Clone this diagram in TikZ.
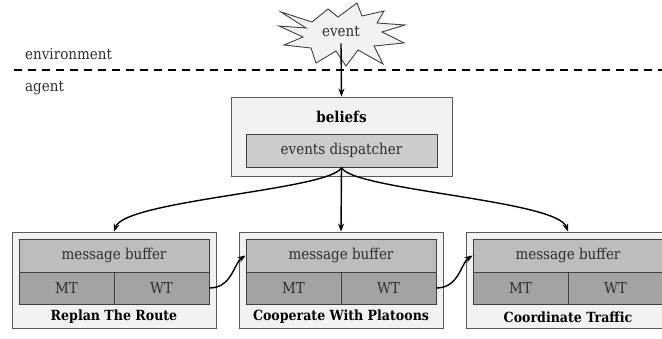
\documentclass[tikz,border=0pt]{standalone}
\usepackage{fontspec}
\setmainfont{DejaVu Serif Condensed}
\usetikzlibrary{arrows.meta}
\definecolor{outerfill}{HTML}{F2F2F2}
\definecolor{buffill}{HTML}{BDBDBD}
\definecolor{mtfill}{HTML}{A3A3A3}
\definecolor{dispfill}{HTML}{CCCCCC}
\definecolor{txt}{HTML}{2E2E2E}
\begin{document}
\begin{tikzpicture}[x=1pt,y=-1pt,
  outerbox/.style={draw=black!65, fill=outerfill, line width=0.9pt, inner sep=0pt},
  bufbox/.style={draw=black!75, fill=buffill, line width=0.8pt, inner sep=0pt, minimum width=190pt, minimum height=33pt, text=txt, font=\fontsize{15}{17}\selectfont},
  tbox/.style={draw=black!75, fill=mtfill, line width=0.8pt, inner sep=0pt, minimum width=95pt, minimum height=32pt, text=txt, font=\fontsize{15}{17}\selectfont},
  lbl/.style={font=\fontsize{14}{16}\selectfont\bfseries, inner sep=0pt},
  plain/.style={font=\fontsize{15}{17}\selectfont, inner sep=0pt, text=txt},
  arr/.style={-{Stealth[length=8pt,width=6pt]}, line width=1.4pt}
]
\useasboundingbox (0,0) rectangle (662,339);
\clip (0,0) rectangle (662,339);

% environment / agent
\node[plain, anchor=west] (env) at (25,54) {environment};
\node[plain, anchor=west] (ag) at (25,88) {agent};
\draw[line width=2pt, dash pattern=on 8pt off 6pt] (14,70) -- (662,70);

% event starburst
\draw[draw=black!75, fill=outerfill, line width=0.9pt, line join=miter]
  (281,12) -- (312,22) -- (328,9) -- (338,17) -- (357,3) -- (362,16) -- (384,11) -- (377,23)
  -- (405,25) -- (382,32) -- (404,43) -- (374,46) -- (383,64) -- (358,50) -- (346,66) -- (336,51)
  -- (316,63) -- (311,48) -- (284,45) -- (303,37) -- (279,26) -- (306,28) -- cycle;
\node[plain, inner sep=3pt, inner ysep=6pt] (ev) at (341,32) {event};

% beliefs
\node[outerbox, minimum width=221pt, minimum height=79pt] (bel) at (341.5,136.5) {};
\node[lbl, font=\fontsize{15}{17}\selectfont\bfseries] (beltxt) at (341.5,117) {beliefs};
\node[draw=black!75, fill=dispfill, line width=0.8pt, inner sep=0pt, minimum width=191pt, minimum height=33pt, plain] (disp) at (341.5,150.5) {events dispatcher};

\draw[arr] (ev.south) -- (bel.north);

% bottom boxes
\foreach \i/\cx/\name in {1/114/Replan The Route, 2/341/Cooperate With Platoons, 3/568/Coordinate Traffic}{
  \node[outerbox, minimum width=204pt, minimum height=96pt] (o\i) at (\cx,280) {};
  \node[bufbox] (b\i) at (\cx,255.5) {message buffer};
  \node[tbox] (mt\i) at (\cx-47.5,288) {MT};
  \node[tbox] (wt\i) at (\cx+47.5,288) {WT};
  \node[lbl] (l\i) at (\cx,317) {\name};
}

% dispatcher arrows
\draw[arr] (disp.south) .. controls (332,190) and (125,200) .. (o1.north);
\draw[arr] (disp.south) -- (o2.north);
\draw[arr] (disp.south) .. controls (351,190) and (557,200) .. (o3.north);

% WT -> next buffer
\draw[arr] (wt1.east) .. controls (232,288) and (234,263) .. (b2.west);
\draw[arr] (wt2.east) .. controls (459,288) and (461,263) .. (b3.west);
\end{tikzpicture}
\end{document}
